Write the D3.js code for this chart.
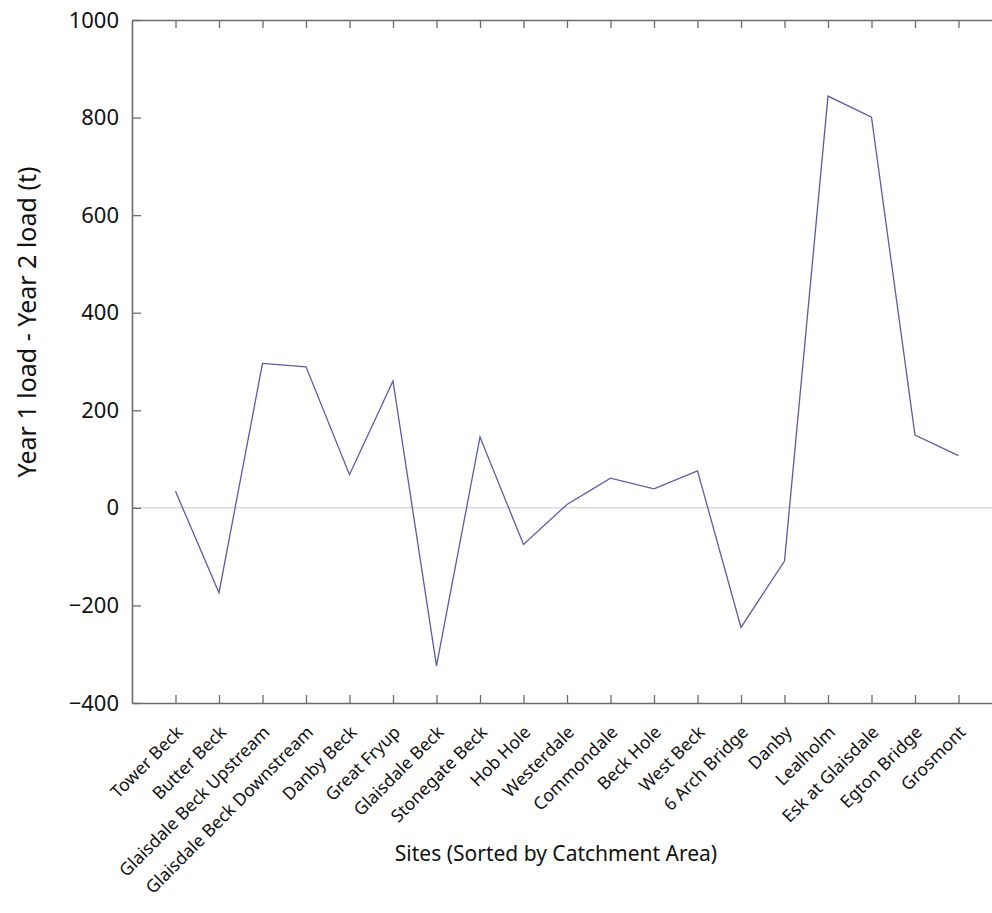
<!DOCTYPE html>
<html>
<head>
<meta charset="utf-8">
<script src="https://cdn.jsdelivr.net/npm/d3@7"></script>
<style>
  body { margin: 0; background: #fff; }
  svg { display: block; font-family: "Noto Sans", sans-serif; }
</style>
</head>
<body>
<div id="chart"></div>
<script>
// sites, sorted by catchment area
var sites = ["Tower Beck", "Butter Beck", "Glaisdale Beck Upstream", "Glaisdale Beck Downstream",
    "Danby Beck", "Great Fryup", "Glaisdale Beck", "Stonegate Beck", "Hob Hole", "Westerdale",
    "Commondale", "Beck Hole", "West Beck", "6 Arch Bridge", "Danby", "Lealholm",
    "Esk at Glaisdale", "Egton Bridge", "Grosmont"];

// year 1 load - year 2 load (t)
var loadDiff = [34, -174, 296, 289, 68, 260, -324, 145, -75, 7,
    61, 39, 76, -245, -109, 844, 801, 149, 107];

var yTicks = [-400, -200, 0, 200, 400, 600, 800, 1000];

var width = 992,
    height = 913;

var margin = { top: 20, right: -10, bottom: 210, left: 132 };

var svg = d3.select("#chart")
    .append("svg")
    .attr("width", width)
    .attr("height", height);

// x is index based, one step of padding each side
var x = d3.scaleLinear()
    .domain([0, sites.length + 1])
    .range([margin.left, width - margin.right]);

var y = d3.scaleLinear()
    .domain([-400, 1000])
    .range([height - margin.bottom, margin.top]);

var axisColor = "#6b6b6b";

// zero line
svg.append("line")
    .attr("x1", x(0)).attr("x2", x(sites.length + 1))
    .attr("y1", y(0)).attr("y2", y(0))
    .attr("stroke", "#c8c8c8")
    .attr("stroke-width", 1);

var tickIdx = sites.map(function (d, i) { return i + 1; });

// bottom axis, ticks point inward
var xAxis = svg.append("g")
    .attr("transform", "translate(0," + y(-400) + ")")
    .call(d3.axisBottom(x).tickValues(tickIdx).tickSizeInner(-8).tickSizeOuter(0).tickFormat(""));

// top axis
var xTop = svg.append("g")
    .attr("transform", "translate(0," + y(1000) + ")")
    .call(d3.axisTop(x).tickValues(tickIdx).tickSizeInner(-8).tickSizeOuter(0).tickFormat(""));

// left axis
var yAxis = svg.append("g")
    .attr("transform", "translate(" + x(0) + ",0)")
    .call(d3.axisLeft(y).tickValues(yTicks).tickFormat(d3.format("d"))
        .tickSizeInner(-9).tickSizeOuter(0).tickPadding(13));

// right axis (sits just past the edge)
var yRight = svg.append("g")
    .attr("transform", "translate(" + x(sites.length + 1) + ",0)")
    .call(d3.axisRight(y).tickValues(yTicks).tickSizeInner(-9).tickSizeOuter(0).tickFormat(""));

[xAxis, xTop, yAxis, yRight].forEach(function (g) {
    g.attr("font-family", null).attr("font-size", null);
    g.select(".domain").attr("stroke", axisColor).attr("stroke-width", 1.6);
    g.selectAll(".tick line").attr("stroke", axisColor).attr("stroke-width", 1.3);
});

yAxis.selectAll(".tick text")
    .attr("fill", "#111")
    .style("font-size", "22px");

// rotated site labels
svg.append("g")
    .selectAll("text")
    .data(sites)
    .enter().append("text")
    .attr("transform", function (d, i) {
        return "translate(" + (x(i + 1) + 4) + "," + (y(-400) + 26) + ") rotate(-45)";
    })
    .attr("text-anchor", "end")
    .attr("dy", "0.35em")
    .style("font-size", "17.5px")
    .attr("fill", "#111")
    .text(function (d) { return d; });

// the line
var line = d3.line()
    .x(function (d, i) { return x(i + 1); })
    .y(function (d) { return y(d); });

svg.append("path")
    .datum(loadDiff)
    .attr("d", line)
    .attr("fill", "none")
    .attr("stroke", "#5b5ba8")
    .attr("stroke-width", 1.3)
    .attr("stroke-linejoin", "miter");

// axis titles
svg.append("text")
    .attr("x", 556)
    .attr("y", 861)
    .attr("text-anchor", "middle")
    .style("font-size", "21px")
    .attr("fill", "#111")
    .text("Sites (Sorted by Catchment Area)");

svg.append("text")
    .attr("transform", "translate(36,322) rotate(-90)")
    .attr("text-anchor", "middle")
    .style("font-size", "25px")
    .attr("fill", "#111")
    .text("Year 1 load - Year 2 load (t)");
</script>
</body>
</html>
